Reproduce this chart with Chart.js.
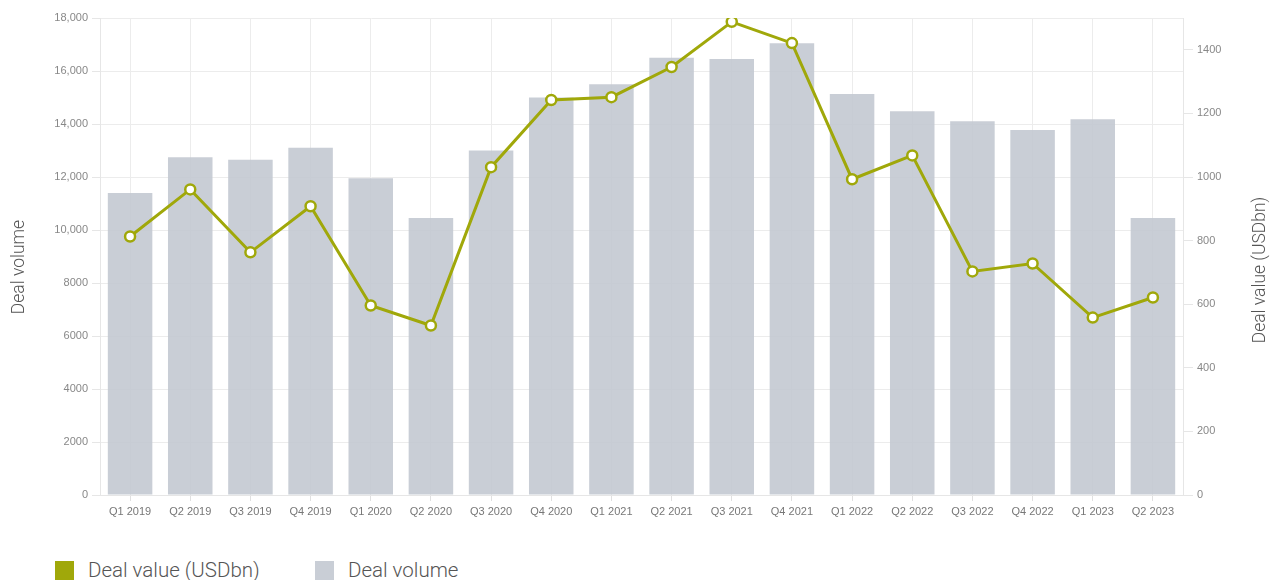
<!DOCTYPE html>
<html>
<head>
<meta charset="utf-8">
<script src="https://cdn.jsdelivr.net/npm/chart.js@4"></script>
<style>
  body { margin: 0; background: #fff; width: 1271px; height: 580px; overflow: hidden; position: relative; }
  #wrap { position: absolute; left: 0; top: 0; width: 1271px; height: 541px; }
  .leg { position: absolute; top: 558px; font-family: Roboto, 'Liberation Sans', sans-serif; font-weight: 300; font-size: 20.5px; color: #555; line-height: 24px; }
  .leg span { position: absolute; left: 0; top: 3px; width: 19px; height: 19px; }
  .leg div { position: absolute; left: 33px; top: 0; white-space: nowrap; }
</style>
</head>
<body>
<div id="wrap"><canvas id="myChart" width="1271" height="541"></canvas></div>
<div class="leg" style="left:55px"><span style="background:#a0a80a"></span><div>Deal value (USDbn)</div></div>
<div class="leg" style="left:315px"><span style="background:#c9ced6"></span><div>Deal volume</div></div>
<script>
const quarters = ['Q1 2019', 'Q2 2019', 'Q3 2019', 'Q4 2019', 'Q1 2020', 'Q2 2020', 'Q3 2020', 'Q4 2020',
    'Q1 2021', 'Q2 2021', 'Q3 2021', 'Q4 2021', 'Q1 2022', 'Q2 2022', 'Q3 2022', 'Q4 2022', 'Q1 2023', 'Q2 2023'];
const dealVolume = [11400, 12750, 12650, 13100, 11950, 10450, 13000, 15000,
    15500, 16500, 16450, 17050, 15130, 14480, 14100, 13770, 14180, 10450];
const dealValue = [813, 961, 763, 908, 596, 533, 1031, 1242,
    1251, 1346, 1488, 1421, 993, 1068, 703, 728, 558, 621];

const olive = '#a0a80a';
const gridCol = '#ececec';
const tickFont = { family: "'Liberation Sans', Arial, sans-serif", size: 11 };

// rotated axis titles (both read bottom to top)
const axisTitles = {
    id: 'axisTitles',
    afterDraw(chart) {
        const ctx = chart.ctx;
        ctx.save();
        ctx.font = "300 17.5px Roboto, 'Liberation Sans', sans-serif";
        ctx.fillStyle = '#555';
        ctx.textAlign = 'center';
        ctx.textBaseline = 'middle';
        [[20, 267, 'Deal volume'], [1261, 270, 'Deal value (USDbn)']].forEach(function (t) {
            ctx.save();
            ctx.translate(t[0], t[1]);
            ctx.rotate(-Math.PI / 2);
            ctx.fillText(t[2], 0, 0);
            ctx.restore();
        });
        ctx.restore();
    }
};

const ctx = document.getElementById('myChart');
new Chart(ctx, {
    data: {
        labels: quarters,
        datasets: [{
            type: 'line',
            label: 'Deal value (USDbn)',
            data: dealValue,
            yAxisID: 'y1',
            borderColor: olive,
            borderWidth: 3,
            pointRadius: 5,
            pointBorderWidth: 2.5,
            pointBackgroundColor: '#fff',
            pointBorderColor: olive,
            tension: 0,
            order: 0
        }, {
            type: 'bar',
            label: 'Deal volume',
            data: dealVolume,
            yAxisID: 'y',
            backgroundColor: 'rgba(195,201,210,0.9)',
            categoryPercentage: 1,
            barPercentage: 0.74,
            order: 1
        }]
    },
    options: {
        responsive: false,
        animation: false,
        layout: { padding: { top: 18, left: 0, right: 0, bottom: 0 } },
        plugins: {
            legend: { display: false },
            tooltip: { enabled: false }
        },
        scales: {
            x: {
                offset: true,
                grid: { offset: false, color: gridCol, tickLength: 6, tickColor: '#e0e0e0' },
                border: { color: '#e6e6e6' },
                ticks: { font: tickFont, color: '#777', maxRotation: 0, padding: 4 },
                afterFit: function (s) { s.height = 46; }
            },
            y: {
                position: 'left',
                min: 0,
                max: 18000,
                grid: { color: gridCol, tickLength: 8, tickColor: '#e6e6e6' },
                border: { color: '#e6e6e6' },
                ticks: {
                    stepSize: 2000,
                    font: tickFont,
                    color: '#888',
                    padding: 4,
                    callback: function (v) { return v >= 10000 ? v.toLocaleString('en-US') : String(v); }
                },
                afterFit: function (s) { s.width = 100; }
            },
            y1: {
                position: 'right',
                min: 0,
                max: 1500,
                grid: { drawOnChartArea: false, tickLength: 10, tickColor: '#e6e6e6' },
                border: { color: '#e6e6e6' },
                ticks: { stepSize: 200, font: tickFont, color: '#888', padding: 4, callback: function (v) { return String(v); } },
                afterBuildTicks: function (s) { s.ticks = s.ticks.filter(function (t) { return t.value % 200 === 0; }); },
                afterFit: function (s) { s.width = 88; }
            }
        }
    },
    plugins: [axisTitles]
});
</script>
</body>
</html>
